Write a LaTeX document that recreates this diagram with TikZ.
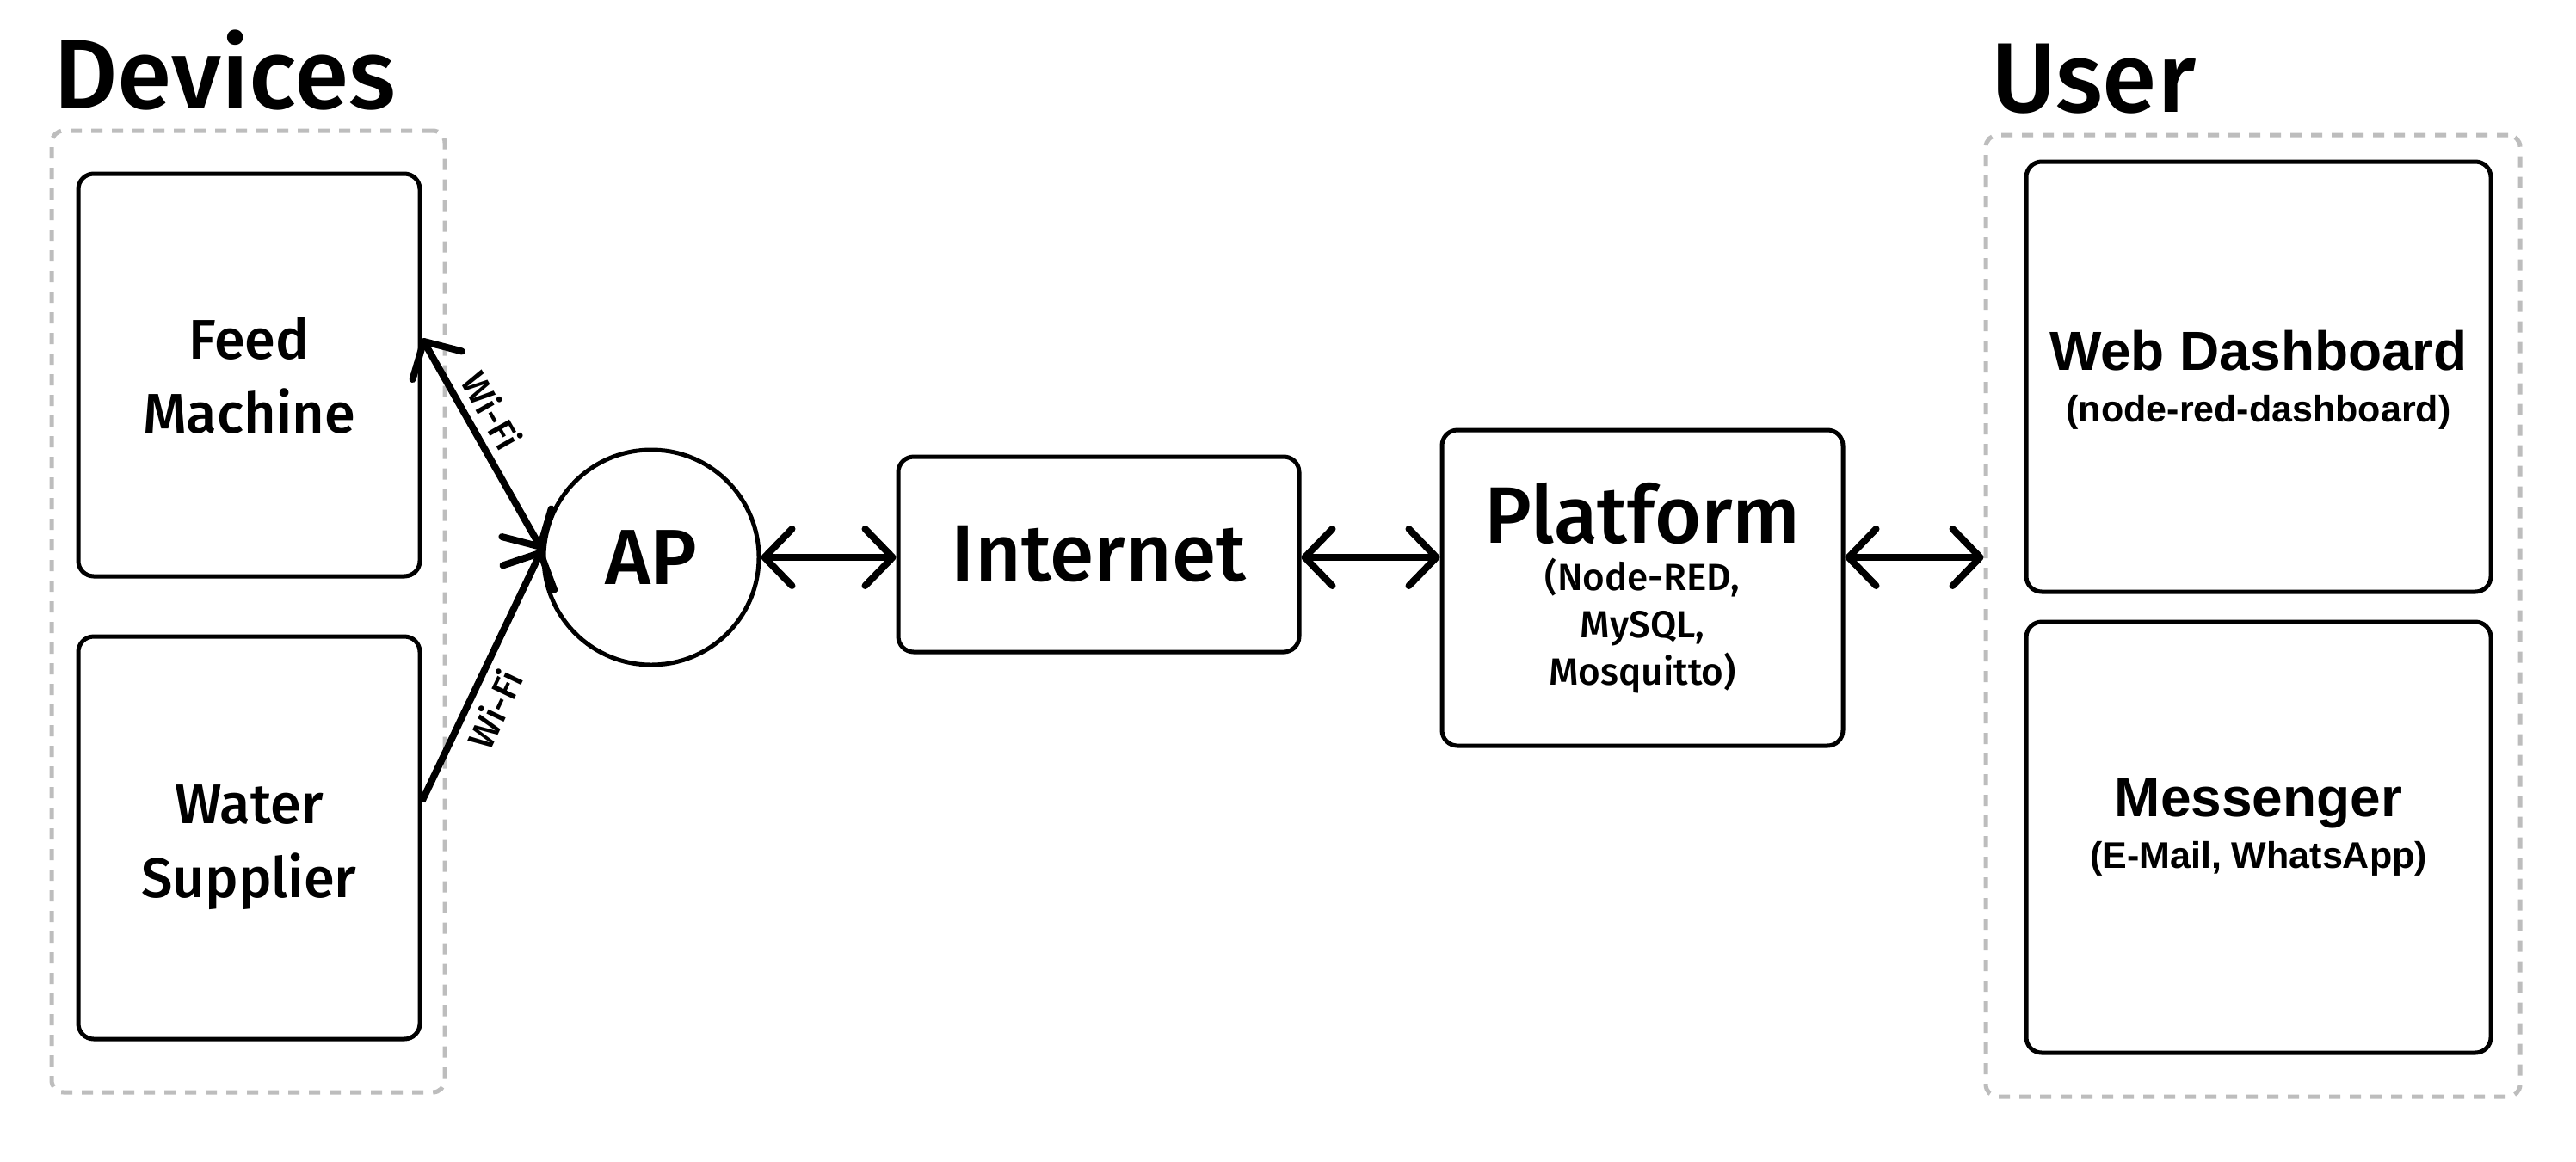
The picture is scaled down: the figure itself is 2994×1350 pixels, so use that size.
\documentclass[tikz,border=0pt]{standalone}
\usepackage{fontspec}
\setmainfont{Fira Sans}[UprightFont=* Medium, BoldFont=* SemiBold]
\newfontfamily\widesans{Liberation Sans}
\usetikzlibrary{arrows.meta,calc}
\definecolor{framegray}{HTML}{BDBDBD}
\begin{document}
\begin{tikzpicture}[x=1pt,y=-1pt,
  box/.style={draw, line width=5pt, rounded corners=18pt, inner sep=0pt, align=center},
  group/.style={draw=framegray, line width=5pt, dash pattern=on 13pt off 11pt,
    rounded corners=14pt, inner sep=0pt},
  barb/.tip={Straight Barb[length=32pt,width=66pt,round]},
  link/.style={line width=8pt, barb-barb},
  linkto/.style={line width=8pt, -barb},
  title/.style={font=\fontsize{115}{130}\selectfont, inner sep=0pt, anchor=base west},
  devtext/.style={font=\fontsize{65}{86}\selectfont, align=center, inner sep=0pt},
  bigtext/.style={font=\fontsize{93}{110}\selectfont},
  usertext/.style={font=\widesans\bfseries\fontsize{43}{51}\selectfont, align=center, inner sep=0pt},
  wifi/.style={font=\fontsize{42}{50}\selectfont, inner sep=9pt}
]
\useasboundingbox[fill=white] (0,0) rectangle (2994,1350);

% group frames and their titles
\node[group, minimum width=457pt, minimum height=1118pt] (devgrp) at (288.5,711) {};
\node[group, minimum width=621pt, minimum height=1118pt] (usergrp) at (2618.5,716) {};
\node[title] (devtitle) at (62,126) {Devices};
\node[title] (usertitle) at (2314,130) {User};

% devices
\node[box, minimum width=397pt, minimum height=468pt] (feed) at (289.5,436) {};
\node[devtext] (feedtext) at (feed.center) {Feed\\Machine};
\node[box, minimum width=397pt, minimum height=468pt] (water) at (289.5,974) {};
\node[devtext] (watertext) at ($(water.center)+(0,11)$) {Water\\Supplier};

% access point, internet, platform
\node[draw, circle, line width=5pt, minimum size=250pt, inner sep=0pt,
  font=\fontsize{91}{100}\selectfont] (AP) at (757,648) {AP};
\node[box, bigtext, minimum width=466pt, minimum height=227pt] (internet) at (1277,644.5) {Internet};
\node[box, font=\fontsize{44}{55}\selectfont, minimum width=466pt, minimum height=367pt] (platform) at (1909,683.5)
  {{\fontsize{93}{110}\selectfont Platform}\\(Node-RED,\\MySQL,\\Mosquitto)};

% user side
\node[box, minimum width=540pt, minimum height=500pt] (web) at (2625,438) {};
\node[usertext] (webtext) at ($(web.center)+(0,4)$)
  {{\fontsize{64}{70}\selectfont Web Dashboard}\\[9pt](node-red-dashboard)};
\node[box, minimum width=540pt, minimum height=501pt] (msg) at (2625,973.5) {};
\node[usertext] (msgtext) at ($(msg.center)+(0,-12)$)
  {{\fontsize{64}{70}\selectfont Messenger}\\[9pt](E-Mail, WhatsApp)};

% wireless links
\coordinate (fp) at ($(feed.north east)!0.41!(feed.south east)$);
\coordinate (wp) at ($(water.north east)!0.41!(water.south east)$);
\draw[link] (fp) -- node[wifi, sloped, above, pos=0.40] (wifi1) {Wi-Fi} (AP.176);
\draw[linkto] (wp) -- node[wifi, sloped, below, pos=0.41] (wifi2) {Wi-Fi} (AP.176);

% wired links
\draw[link] (AP.east) -- (AP.east -| internet.west);
\draw[link] (internet.east |- AP.east) -- (platform.west |- AP.east);
\draw[link] (platform.east |- AP.east) -- (usergrp.west |- AP.east);
\end{tikzpicture}
\end{document}
